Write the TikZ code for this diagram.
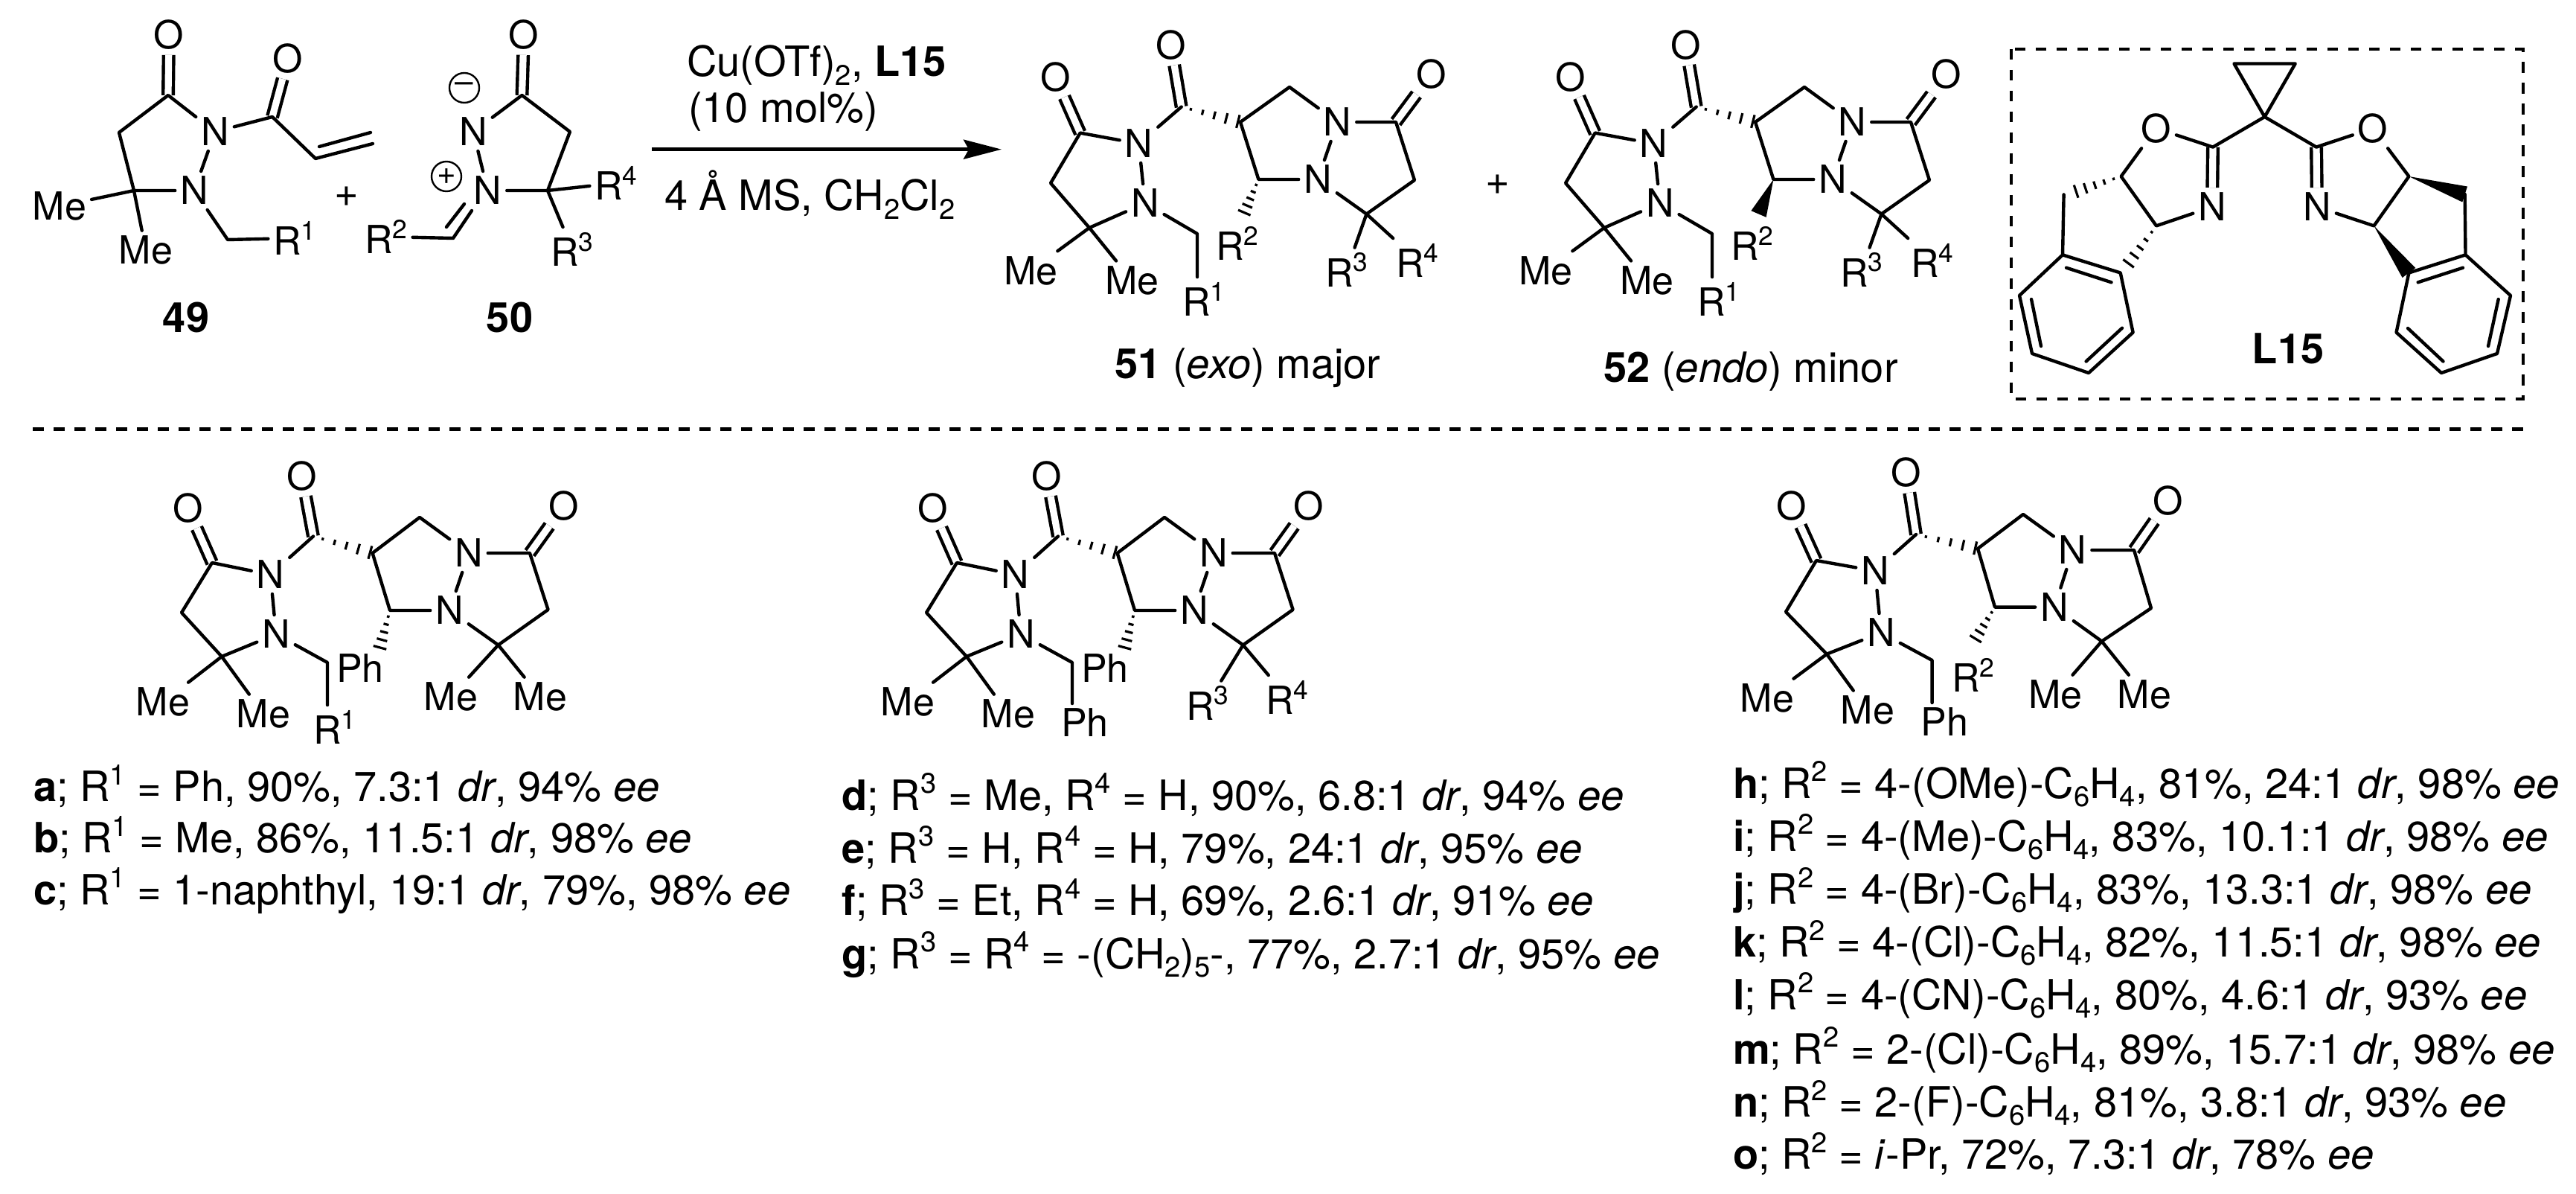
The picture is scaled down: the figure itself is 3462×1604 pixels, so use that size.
\documentclass[tikz,border=0pt]{standalone}
\usepackage{fontspec}
\setmainfont{TeX Gyre Heros}
\usetikzlibrary{calc,arrows.meta}
\tikzset{
  atom/.style={inner sep=3.5pt,outer sep=0pt,font=\fontsize{26}{26}\selectfont},
  txt/.style={inner sep=0pt,outer sep=0pt,anchor=base west,font=\fontsize{28}{28}\selectfont},
  ctxt/.style={txt,anchor=base},
  bond/.style={line width=2.2pt,line cap=round,line join=round},
  dbl/.style={line width=2.2pt,double,double distance=4.6pt,line cap=butt},
  hashl/.style={line width=1.6pt},
  dashl/.style={line width=2.3pt,dash pattern=on 7.5pt off 6.5pt},
  charge/.style={circle,draw,line width=1.2pt,minimum size=20pt,inner sep=0pt,font=\fontsize{22}{22}\selectfont},
}
\newcommand{\supr}[1]{\raisebox{.4em}{\scalebox{.68}{#1}}}
\newcommand{\subr}[1]{\raisebox{-.2em}{\scalebox{.68}{#1}}}
\newcommand{\vtx}[3]{\coordinate (#1) at (#2,#3);}
\newcommand{\atm}[4]{\node[atom] (#1) at (#2,#3) {#4};}
\newcommand{\hashw}[2]{\foreach \t/\w in {.16/.9,.36/1.8,.56/2.7,.76/3.6,.96/4.5}{\draw[hashl] ($(#1)!\t!(#2)!\w pt!90:(#2)$) -- ($(#1)!\t!(#2)!\w pt!-90:(#2)$);}}
\newcommand{\solidw}[2]{\fill (#1) -- ($(#2)!5.5pt!90:(#1)$) -- ($(#2)!5.5pt!-90:(#1)$) -- cycle;}
% common product skeleton; #1 is the wedge at C4
\newcommand{\prodbody}[1]{%
  \draw[dbl] (c1)--(o1) (c2)--(o2) (c5)--(o3);
  \draw[bond] (n1)--(c1)--(ch2)--(cm)--(n2) (n1)--(n2) (n1)--(c2);
  \draw[bond] (cm)--(l1) (cm)--(l2) (n2)--(chb)--(chb |- rb.north);
  \draw[bond] (c3)--(cht)--(n3) (n3)--(c5)--(chr)--(cr)--(n4) (n3)--(n4) (n4)--(c4)--(c3);
  \draw[bond] (cr)--(l3) (cr)--(l4);
  \hashw{c2}{c3}
  #1{c4}{w2}
}
\newcommand{\geomTop}{%
  \atm{o1}{1418.6}{103.6}{O}\vtx{c1}{1451.7}{178.6}\atm{n1}{1530.5}{193}{N}\vtx{ch2}{1412}{246}
  \atm{n2}{1538.8}{273}{N}\vtx{cm}{1464}{306}\vtx{chb}{1609}{314}\vtx{c2}{1587.7}{143.6}
  \atm{o2}{1573.6}{60.7}{O}\vtx{c3}{1667}{164}\vtx{cht}{1733}{117}\atm{n3}{1797.5}{164}{N}
  \vtx{c5}{1876}{164}\atm{o3}{1923.6}{100}{O}\vtx{chr}{1901}{242}\vtx{cr}{1836.5}{287.5}
  \atm{n4}{1771}{241}{N}\vtx{c4}{1691.4}{241}\vtx{w2}{1671.5}{287.5}
  \atm{l1}{1385.4}{363.6}{Me}\atm{l2}{1521.4}{376.8}{Me}\atm{rb}{1618}{402}{R\supr{1}}
  \atm{r2}{1663}{327}{R\supr{2}}\atm{l3}{1810}{362.5}{R\supr{3}}\atm{l4}{1905}{350}{R\supr{4}}
}
\newcommand{\geomA}{%
  \atm{o1}{252.6}{682.6}{O}\vtx{c1}{285}{756}\atm{n1}{363.5}{772}{N}\vtx{ch2}{244}{823}
  \atm{n2}{371}{852}{N}\vtx{cm}{298}{882}\vtx{chb}{440}{890}\vtx{c2}{421}{720.5}
  \atm{o2}{406}{640}{O}\vtx{c3}{500.6}{743}\vtx{cht}{564}{695}\atm{n3}{630}{743}{N}
  \vtx{c5}{712}{743}\atm{o3}{757.6}{679.5}{O}\vtx{chr}{736.6}{819}\vtx{cr}{669.6}{866.5}
  \atm{n4}{604}{820}{N}\vtx{c4}{524}{820}\vtx{w2}{510}{872}
  \atm{l1}{219}{943}{Me}\atm{l2}{354}{959}{Me}
  \atm{r2}{484}{898}{Ph}
}
\newcommand{\geomH}{%
  \atm{o1}{2407.7}{679.7}{O}\vtx{c1}{2441}{753}\atm{n1}{2520}{767}{N}\vtx{ch2}{2400}{822}
  \atm{n2}{2528}{850}{N}\vtx{cm}{2455}{878.7}\vtx{chb}{2596.6}{887}\vtx{c2}{2575}{718}
  \atm{o2}{2562}{635}{O}\vtx{c3}{2658}{737}\vtx{cht}{2719}{691}\atm{n3}{2785.6}{739}{N}
  \vtx{c5}{2868}{739}\atm{o3}{2914}{673}{O}\vtx{chr}{2891}{817}\vtx{cr}{2824.6}{861.5}
  \atm{n4}{2761}{815.6}{N}\vtx{c4}{2681}{815.6}\vtx{w2}{2654}{860}
  \atm{l1}{2375}{938}{Me}\atm{l2}{2510}{954}{Me}\atm{rb}{2613.5}{970}{Ph}
  \atm{r2}{2652}{907}{R\supr{2}}\atm{l3}{2762.7}{933}{Me}\atm{l4}{2882}{933}{Me}
}
\begin{document}
\begin{tikzpicture}[x=0.5pt,y=-0.5pt]
\path[fill=white,use as bounding box] (0,0) rectangle (3462,1604);

% ---------- 49
\begin{scope}[name prefix=m49-]
  \atm{o1}{227}{47}{O}\vtx{c1}{226}{128}\atm{n1}{289}{177}{N}\vtx{ch2}{160}{178}
  \atm{n2}{261}{256}{N}\vtx{cm}{180}{256}\atm{me1}{80}{277}{Me}\atm{me2}{196}{336}{Me}
  \vtx{chb}{306}{322}\atm{r1}{396}{320}{R\supr{1}}\vtx{c2}{366}{157}\atm{o2}{387}{79}{O}
  \vtx{v1}{424}{213}\vtx{v2}{501}{193}\vtx{v3}{429}{197}\vtx{v4}{498}{178}
  \draw[dbl] (c1)--(o1) (c2)--(o2);
  \draw[bond] (n1)--(c1)--(ch2)--(cm)--(n2) (n1)--(n2) (n1)--(c2)--(v1)--(v2) (v3)--(v4);
  \draw[bond] (cm)--(me1) (cm)--(me2) (n2)--(chb)--(r1);
\end{scope}
\node[ctxt] (plusa) at (466,278) {+};
\node[ctxt] (lab49) at (250,447) {\textbf{49}};
% ---------- 50
\begin{scope}[name prefix=m50-]
  \atm{o1}{704}{47}{O}\vtx{c1}{701.5}{128}\atm{n1}{636}{177}{N}\vtx{ch2}{766}{177}
  \vtx{cq}{736}{256}\atm{n2}{655.5}{256}{N}\vtx{ch}{609}{320}\atm{r2}{519}{318}{R\supr{2}}
  \atm{r4}{828}{246}{R\supr{4}}\atm{r3}{769}{335}{R\supr{3}}
  \vtx{d1}{600}{305}\vtx{d2}{624}{274}\vtx{d3}{634}{283}
  \node[charge] (minus) at (624,118) {–};
  \node[charge] (plus) at (600,237) {+};
  \draw[dbl] (c1)--(o1);
  \draw[bond] (n1)--(c1)--(ch2)--(cq)--(n2) (n1)--(n2) (ch)--(d3) (d1)--(d2) (ch)--(r2) (cq)--(r4) (cq)--(r3);
\end{scope}
\node[ctxt] (lab50) at (685,447) {\textbf{50}};

% ---------- conditions and arrow
\coordinate (as) at (876,200.7);
\coordinate (ae) at (1346,200.7);
\draw[line width=2.4pt,-{Stealth[length=25.5pt,width=13pt,inset=3.5pt]}] (as) -- (ae);
\node[txt] (cond1) at (923,103) {Cu(OTf)\subr{2}, \textbf{L15}};
\node[txt] (cond2) at (925,165) {(10 mol\%)};
\node[txt] (cond3) at (893,283) {4 Å MS, CH\subr{2}Cl\subr{2}};

% ---------- 51, 52
\begin{scope}[name prefix=p51-]
  \geomTop \prodbody{\hashw}
\end{scope}
\begin{scope}[name prefix=p52-,shift={(692,0)}]
  \geomTop \prodbody{\solidw}
\end{scope}
\node[ctxt] (plusb) at (2013,262) {+};
\node[ctxt] (lab51) at (1677,509) {\textbf{51} (\textit{exo}) major};
\node[ctxt] (lab52) at (2353,514) {\textbf{52} (\textit{endo}) minor};

% ---------- L15
\coordinate (bx1) at (2703,66);
\coordinate (bx2) at (3390.6,536);
\draw[line width=2pt,dash pattern=on 7.2pt off 6.8pt] (bx1) rectangle (bx2);
\begin{scope}[name prefix=L-]
  \vtx{a1}{3002.4}{85.5}\vtx{a2}{3084.7}{85.5}\vtx{q}{3043.5}{157}
  \vtx{cl}{2974}{197.6}\vtx{cr}{3113}{197.6}
  \atm{ol}{2897.6}{172.4}{O}\atm{or}{3189}{172.4}{O}
  \atm{nl}{2973}{278}{N}\atm{nr}{3114}{278}{N}
  \vtx{col}{2850.6}{237}\vtx{cnl}{2898}{303.4}\vtx{chl}{2773.6}{261.4}
  \vtx{bl1}{2772}{342.4}\vtx{bl2}{2849.7}{366.5}\vtx{bl3}{2866.6}{446.6}\vtx{bl4}{2807}{501}\vtx{bl5}{2731}{475}\vtx{bl6}{2714}{397}
  \vtx{il1}{2777}{359.7}\vtx{il2}{2837.5}{379.3}\vtx{il3}{2730}{402}\vtx{il4}{2743}{465}\vtx{il5}{2803.6}{485.5}\vtx{il6}{2852}{440.7}
  \vtx{hl1}{2787.6}{258}\vtx{hl2}{2859}{356}
  \vtx{cor}{3237.4}{237}\vtx{cnr}{3190.4}{303.4}\vtx{chr}{3312.6}{261}
  \vtx{br1}{3313.5}{342.4}\vtx{br2}{3237.4}{366.5}\vtx{br3}{3220.5}{446.6}\vtx{br4}{3281}{501}\vtx{br5}{3356}{475}\vtx{br6}{3374}{397}
  \vtx{ir1}{3249.6}{379.3}\vtx{ir2}{3310}{359.7}\vtx{ir3}{3344}{465}\vtx{ir4}{3357.7}{402}\vtx{ir5}{3236}{441}\vtx{ir6}{3283.5}{485.5}
  \draw[dbl] (cl)--(nl) (cr)--(nr);
  \draw[bond] (a1)--(a2)--(q)--cycle (q)--(cl) (q)--(cr) (cl)--(ol) (cr)--(or) (ol)--(col)--(cnl)--(nl) (or)--(cor)--(cnr)--(nr);
  \draw[bond] (chl)--(bl1) (bl1)--(bl2)--(bl3)--(bl4)--(bl5)--(bl6)--cycle (il1)--(il2) (il3)--(il4) (il5)--(il6);
  \draw[bond] (chr)--(br1) (br1)--(br2)--(br3)--(br4)--(br5)--(br6)--cycle (ir1)--(ir2) (ir3)--(ir4) (ir5)--(ir6);
  \hashw{col}{hl1}
  \hashw{cnl}{hl2}
  \solidw{cor}{chr}
  \solidw{cnr}{br2}
\end{scope}
\node[ctxt] (labL) at (3075,488) {\textbf{L15}};

% ---------- separator
\coordinate (s1) at (44,576.7);
\coordinate (s2) at (3401,576.7);
\draw[dashl] (s1) -- (s2);

% ---------- substrate a-c
\begin{scope}[name prefix=pa-]
  \geomA
  \atm{rb}{450}{977}{R\supr{1}}\atm{l3}{606}{936}{Me}\atm{l4}{726}{936}{Me}
  \prodbody{\hashw}
\end{scope}
\node[txt] (a) at (45,1076.8) {\textbf{a}; R\supr{1} = Ph, 90\%, 7.3:1 \textit{dr}, 94\% \textit{ee}};
\node[txt] (b) at (45,1145.8) {\textbf{b}; R\supr{1} = Me, 86\%, 11.5:1 \textit{dr}, 98\% \textit{ee}};
\node[txt] (c) at (45,1215) {\textbf{c}; R\supr{1} = 1-naphthyl, 19:1 \textit{dr}, 79\%, 98\% \textit{ee}};

% ---------- substrate d-g
\begin{scope}[name prefix=pd-,shift={(1001,0)}]
  \geomA
  \atm{rb}{457}{971}{Ph}\atm{l3}{622}{944.5}{R\supr{3}}\atm{l4}{729}{937}{R\supr{4}}
  \prodbody{\hashw}
\end{scope}
\node[txt] (d) at (1131.6,1088) {\textbf{d}; R\supr{3} = Me, R\supr{4} = H, 90\%, 6.8:1 \textit{dr}, 94\% \textit{ee}};
\node[txt] (e) at (1131.6,1159) {\textbf{e}; R\supr{3} = H, R\supr{4} = H, 79\%, 24:1 \textit{dr}, 95\% \textit{ee}};
\node[txt] (f) at (1131.6,1229.5) {\textbf{f}; R\supr{3} = Et, R\supr{4} = H, 69\%, 2.6:1 \textit{dr}, 91\% \textit{ee}};
\node[txt] (g) at (1131.6,1301) {\textbf{g}; R\supr{3} = R\supr{4} = -(CH\subr{2})\subr{5}-, 77\%, 2.7:1 \textit{dr}, 95\% \textit{ee}};

% ---------- substrate h-o
\begin{scope}[name prefix=ph-]
  \geomH \prodbody{\hashw}
\end{scope}
\node[txt] (h) at (2329,1072) {\textbf{h}; R\supr{2} = 4-(OMe)-C\subr{6}H\subr{4}, 81\%, 24:1 \textit{dr}, 98\% \textit{ee}};
\node[txt] (i) at (2329,1143) {\textbf{i}; R\supr{2} = 4-(Me)-C\subr{6}H\subr{4}, 83\%, 10.1:1 \textit{dr}, 98\% \textit{ee}};
\node[txt] (j) at (2329,1214.5) {\textbf{j}; R\supr{2} = 4-(Br)-C\subr{6}H\subr{4}, 83\%, 13.3:1 \textit{dr}, 98\% \textit{ee}};
\node[txt] (k) at (2329,1285.5) {\textbf{k}; R\supr{2} = 4-(Cl)-C\subr{6}H\subr{4}, 82\%, 11.5:1 \textit{dr}, 98\% \textit{ee}};
\node[txt] (l) at (2329,1356) {\textbf{l}; R\supr{2} = 4-(CN)-C\subr{6}H\subr{4}, 80\%, 4.6:1 \textit{dr}, 93\% \textit{ee}};
\node[txt] (m) at (2329,1429) {\textbf{m}; R\supr{2} = 2-(Cl)-C\subr{6}H\subr{4}, 89\%, 15.7:1 \textit{dr}, 98\% \textit{ee}};
\node[txt] (n) at (2329,1500.5) {\textbf{n}; R\supr{2} = 2-(F)-C\subr{6}H\subr{4}, 81\%, 3.8:1 \textit{dr}, 93\% \textit{ee}};
\node[txt] (o) at (2329,1570.6) {\textbf{o}; R\supr{2} = \textit{i}-Pr, 72\%, 7.3:1 \textit{dr}, 78\% \textit{ee}};
\end{tikzpicture}
\end{document}
